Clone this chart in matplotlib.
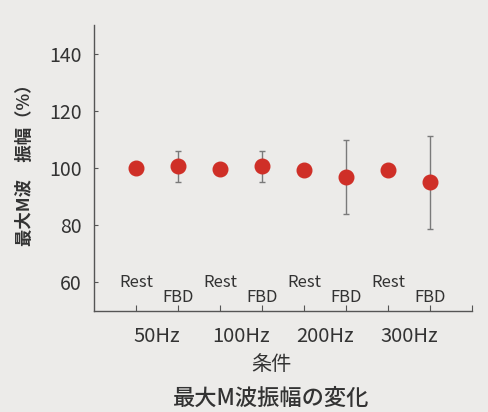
import numpy as np
import matplotlib
matplotlib.use("Agg")
import matplotlib.pyplot as plt

plt.rcParams['font.family'] = ['Noto Sans CJK JP', 'DejaVu Sans']

# data
conditions = ['Rest', 'FBD', 'Rest', 'FBD', 'Rest', 'FBD', 'Rest', 'FBD']
freqs = ['50Hz', '100Hz', '200Hz', '300Hz']
means = [100.0, 100.6, 99.8, 100.6, 99.5, 97.0, 99.5, 95.0]
errs = [0.0, 5.4, 0.0, 5.4, 0.0, 13.0, 0.0, 16.3]
yticks = [60, 80, 100, 120, 140]

bg = '#ecebe9'
red = '#cf2f27'
txt = '#333333'

fig = plt.figure(figsize=(4.89, 4.12), dpi=100, facecolor=bg)
ax = fig.add_axes([0.192, 0.245, 0.773, 0.694])
ax.set_facecolor(bg)

x = np.arange(1, len(means) + 1)
for xi, m, e in zip(x, means, errs):
    if e > 0:
        ax.errorbar(xi, m, yerr=e, fmt='none', ecolor='#7a7a7a',
                    elinewidth=1.0, capsize=2, capthick=1.0, zorder=2)
ax.plot(x, means, 'o', color=red, markersize=10.5, zorder=3, linestyle='none')

ax.set_xlim(0, 9)
ax.set_ylim(50, 150)

for s in ['top', 'right']:
    ax.spines[s].set_visible(False)
for s in ['left', 'bottom']:
    ax.spines[s].set_color('#555555')
    ax.spines[s].set_linewidth(1.0)

ax.set_yticks(yticks)
ax.tick_params(axis='y', direction='in', length=3, colors='#555555',
               labelcolor=txt, labelsize=14, pad=9)
ax.set_xticks(list(x) + [9])
ax.set_xticklabels([])
ax.tick_params(axis='x', direction='in', length=4, colors='#555555')

# condition labels inside the axes
for xi, c in zip(x, conditions):
    yy = 60.0 if c == 'Rest' else 54.8
    ax.text(xi, yy, c, ha='center', va='center', fontsize=12, color=txt)

# frequency labels under the axis
for i, f in enumerate(freqs):
    ax.annotate(f, xy=(1.5 + 2 * i, 0), xycoords=('data', 'axes fraction'),
                xytext=(0, -25), textcoords='offset pixels',
                ha='center', va='center', fontsize=14.5, color=txt)

fig.text(0.555, 1 - 365 / 412, '条件', ha='center', va='center',
         fontsize=14.5, color=txt)
fig.text(0.555, 1 - 398 / 412, '最大M波振幅の変化', ha='center', va='center',
         fontsize=16, color=txt, fontweight='medium')
fig.text(0.052, 1 - 161 / 412, '最大M波　振幅（%）', ha='center', va='center',
         rotation=90, fontsize=12.5, color=txt, fontweight='bold')

fig.savefig('out.png', dpi=100, facecolor=bg)
